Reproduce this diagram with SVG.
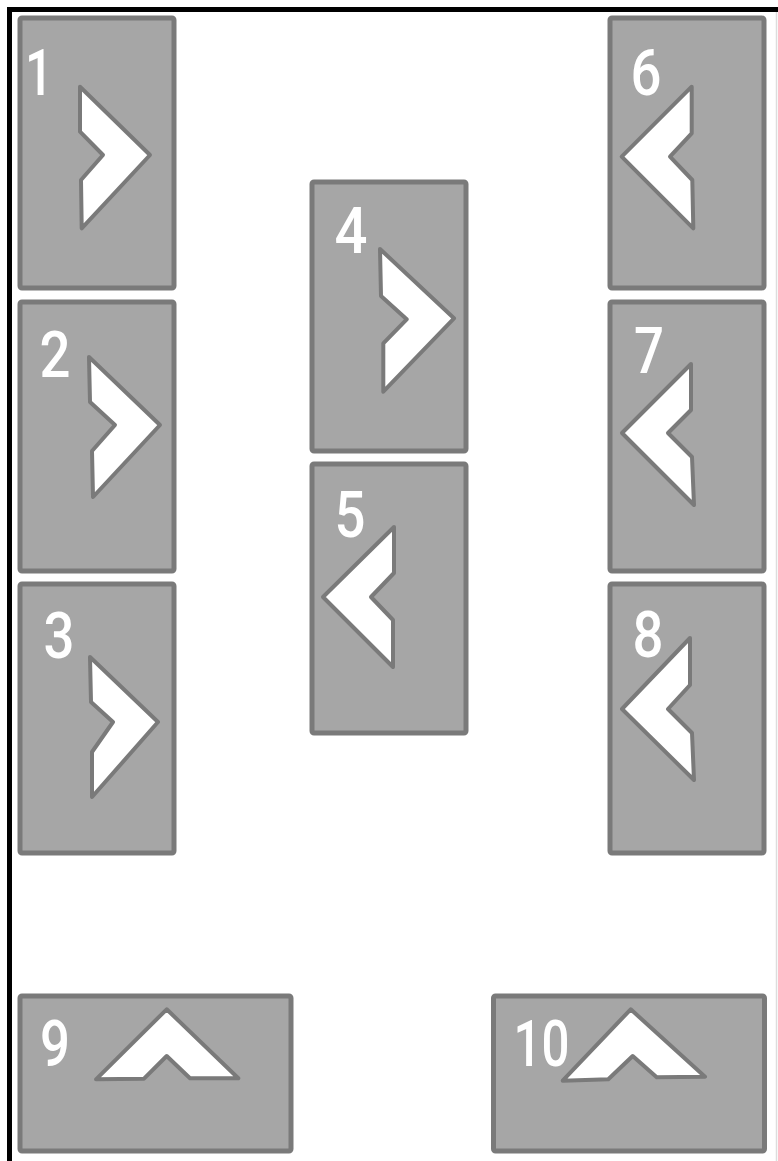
<svg xmlns="http://www.w3.org/2000/svg" width="778" height="1161" viewBox="0 0 778 1161">
<style>
.box{fill:#a6a6a6;stroke:#7a7a7a;stroke-width:5}
.chev{fill:#ffffff;stroke:#7a7a7a;stroke-width:4;stroke-linejoin:round}
.num{fill:#ffffff;font-family:Roboto,"Liberation Sans",sans-serif;font-weight:500;font-size:65px;text-anchor:middle}
</style>
<rect x="0" y="0" width="778" height="1161" fill="#ffffff"/>
<path d="M9.5 1161 V9.5 H778" fill="none" stroke="#000000" stroke-width="5"/>
<line x1="776.5" y1="12" x2="776.5" y2="1161" stroke="#dddddd" stroke-width="1.5"/>
<g id="connectors"/>
<g id="node1">
<rect class="box" x="20" y="18" width="154" height="270" rx="2"/>
<polygon class="chev" points="80,86.7 150,155 81.7,228.3 81,180 103,155 80,131.7"/>
<text class="num" x="39" y="95" textLength="28" lengthAdjust="spacingAndGlyphs">1</text>
</g>
<g id="node2">
<rect class="box" x="20" y="302" width="154" height="269" rx="2"/>
<polygon class="chev" points="89,357 160,425 93,497 92,451 115,425 90,402"/>
<text class="num" x="55" y="377" textLength="31" lengthAdjust="spacingAndGlyphs">2</text>
</g>
<g id="node3">
<rect class="box" x="20" y="584" width="154" height="269" rx="2"/>
<polygon class="chev" points="90,657 158,722 92,797 92,752 113,722 91,702"/>
<text class="num" x="59" y="658" textLength="31" lengthAdjust="spacingAndGlyphs">3</text>
</g>
<g id="node4">
<rect class="box" x="312" y="182" width="154" height="269" rx="2"/>
<polygon class="chev" points="380,249 454,318.3 383.3,391.7 383.3,343.3 406.7,319.3 381,296"/>
<text class="num" x="351" y="253" textLength="33" lengthAdjust="spacingAndGlyphs">4</text>
</g>
<g id="node5">
<rect class="box" x="312" y="464" width="154" height="269" rx="2"/>
<polygon class="chev" points="394,527 323,597 393,667 393,620 371,597 394,573"/>
<text class="num" x="350" y="537" textLength="31" lengthAdjust="spacingAndGlyphs">5</text>
</g>
<g id="node6">
<rect class="box" x="610" y="18" width="154" height="270" rx="2"/>
<polygon class="chev" points="691.7,86.7 621.7,156.7 693.3,228.3 692.3,180 670,156.7 691.7,133.3"/>
<text class="num" x="646" y="95" textLength="31" lengthAdjust="spacingAndGlyphs">6</text>
</g>
<g id="node7">
<rect class="box" x="610" y="302" width="154" height="269" rx="2"/>
<polygon class="chev" points="691,364 622,433 694,505 692,457 668,433 691,410"/>
<text class="num" x="649" y="373" textLength="30" lengthAdjust="spacingAndGlyphs">7</text>
</g>
<g id="node8">
<rect class="box" x="610" y="584" width="154" height="269" rx="2"/>
<polygon class="chev" points="690,638 622,709 694,780 692,733 668,709 690,685"/>
<text class="num" x="648" y="657" textLength="31" lengthAdjust="spacingAndGlyphs">8</text>
</g>
<g id="node9">
<rect class="box" x="20" y="996" width="271" height="155" rx="2"/>
<polygon class="chev" points="96,1079.3 166.7,1009.3 238.3,1078.3 190,1078.3 166.7,1056 144,1078.7"/>
<text class="num" x="55" y="1066" textLength="30" lengthAdjust="spacingAndGlyphs">9</text>
</g>
<g id="node10">
<rect class="box" x="493.5" y="996" width="271" height="155" rx="2"/>
<polygon class="chev" points="562.7,1080.7 630.7,1009.3 705,1076.7 656.7,1077.3 632.7,1056 608.3,1079.3"/>
<text class="num" x="541.5" y="1066" textLength="56" lengthAdjust="spacingAndGlyphs">10</text>
</g>
</svg>
